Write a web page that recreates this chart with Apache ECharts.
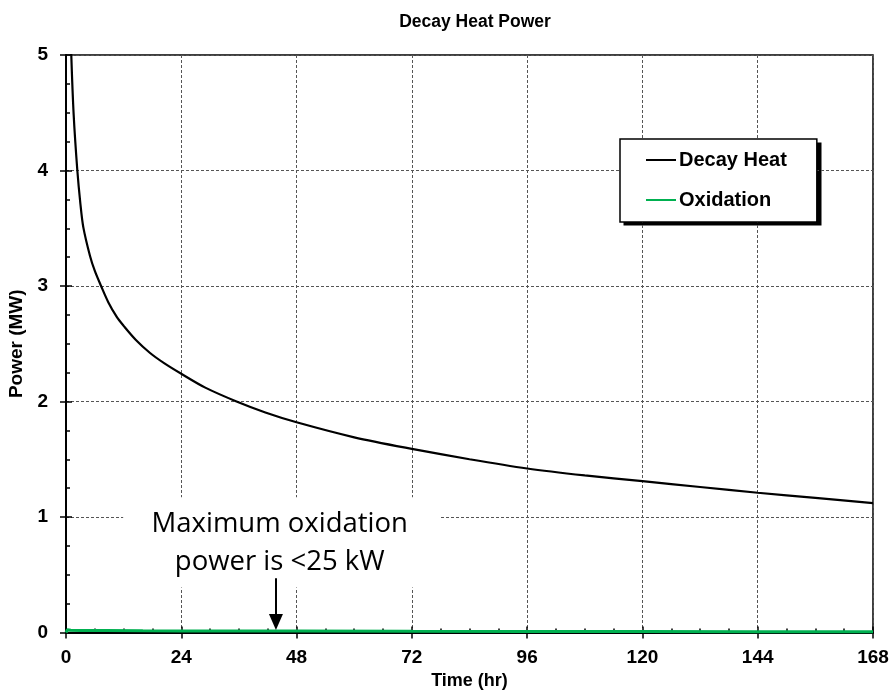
<!DOCTYPE html>
<html>
<head>
<meta charset="utf-8">
<script src="https://cdn.jsdelivr.net/npm/echarts@6/dist/echarts.min.js"></script>
<style>html,body{margin:0;padding:0;background:#fff}#c{width:892px;height:698px}</style>
</head>
<body>
<div id="c"></div>
<script>
// Decay heat curve (hours, MW)
var decayTime = [0.5, 0.8, 1.1, 1.6, 2.36, 3.0, 3.6, 5.0, 6.0, 7.3, 8.8, 10.6, 12.0, 14.5, 17.5, 20.5, 24, 29, 35.5, 41.5, 48, 60, 72, 84, 96, 108, 120, 132, 144, 156, 168];
var decayPower = [6.28, 5.49, 5.0, 4.48, 4.0, 3.71, 3.51, 3.26, 3.13, 3.0, 2.86, 2.73, 2.655, 2.535, 2.42, 2.33, 2.24, 2.12, 2.0, 1.905, 1.82, 1.69, 1.59, 1.5, 1.42, 1.36, 1.31, 1.26, 1.21, 1.165, 1.12];
// Oxidation power (hours, MW)
var oxTime = [0, 0.3, 1, 3, 8, 16, 24, 48, 72, 96, 120, 144, 168];
var oxPower = [0.0, 0.024, 0.02, 0.018, 0.017, 0.015, 0.014, 0.012, 0.01, 0.009, 0.008, 0.007, 0.006];
var xTicks = [0, 24, 48, 72, 96, 120, 144, 168];
var yTicks = [0, 1, 2, 3, 4, 5];
var seriesNames = ['Decay Heat', 'Oxidation'];
var annotationLines = ['Maximum oxidation', 'power is <25 kW'];
var arrowAt = {t: 43.7, from: 0.47, to: 0.09};

function pairs(a, b) { return a.map(function (v, i) { return [v, b[i]]; }); }

var chart = echarts.init(document.getElementById('c'), null, {renderer: 'canvas'});
var F = '"Liberation Sans", Arial, sans-serif';
var gridDash = {type: [3, 2], color: '#555', width: 1};
var shadowRect = {type: 'rect', z: 0, silent: true, shape: {x: 623.5, y: 142.5, width: 198, height: 83}, style: {fill: '#000'}};

var option = {
  animation: false,
  backgroundColor: '#fff',
  title: {
    text: 'Decay Heat Power', left: 470, top: 8, textAlign: 'center',
    textStyle: {fontFamily: F, fontWeight: 'bold', fontSize: 17.5, color: '#000'}
  },
  grid: {left: 66, right: 19, top: 55, bottom: 65.5, show: true, borderColor: '#000', borderWidth: 1.5,
    backgroundColor: 'transparent', containLabel: false, outerBoundsMode: 'none'},
  graphic: [shadowRect],
  legend: {
    orient: 'vertical', left: 620, top: 139,
    data: seriesNames,
    icon: 'rect', itemWidth: 30, itemHeight: 2, itemGap: 20,
    padding: [11, 30, 12, 26],
    backgroundColor: '#fff', borderColor: '#000', borderWidth: 1.5,
    textStyle: {fontFamily: F, fontWeight: 'bold', fontSize: 20, color: '#000', padding: [0, 0, 0, -2]}
  },
  xAxis: [{
    type: 'value', min: 0, max: 168, interval: 24,
    name: 'Time (hr)', nameLocation: 'middle', nameGap: 38,
    nameTextStyle: {fontFamily: F, fontWeight: 'bold', fontSize: 18, color: '#000'},
    axisLine: {onZero: false, lineStyle: {color: '#000', width: 2}},
    axisTick: {inside: true, length: 6, lineStyle: {color: '#000', width: 1.5}},
    minorTick: {show: true, splitNumber: 4, length: 4, lineStyle: {color: '#000', width: 1.5}},
    axisLabel: {margin: 16, fontFamily: F, fontWeight: 'bold', fontSize: 19, color: '#000'},
    splitLine: {show: true, lineStyle: gridDash}
  }, {
    type: 'value', min: 0, max: 168, interval: 24, position: 'bottom',
    axisLine: {show: false}, axisLabel: {show: false}, splitLine: {show: false},
    axisTick: {show: true, inside: false, length: 6, lineStyle: {color: '#000', width: 1.5}}
  }],
  yAxis: [{
    type: 'value', min: 0, max: 5, interval: 1,
    name: 'Power (MW)', nameLocation: 'middle', nameGap: 38,
    nameTextStyle: {fontFamily: F, fontWeight: 'bold', fontSize: 19, color: '#000'},
    axisLine: {show: true, onZero: false, lineStyle: {color: '#000', width: 2}},
    axisTick: {show: true, inside: true, length: 6, lineStyle: {color: '#000', width: 1.5}},
    minorTick: {show: true, splitNumber: 4, length: 4, lineStyle: {color: '#000', width: 1.5}},
    axisLabel: {margin: 18, fontFamily: F, fontWeight: 'bold', fontSize: 19, color: '#000'},
    splitLine: {show: true, lineStyle: gridDash}
  }, {
    type: 'value', min: 0, max: 5, interval: 1, position: 'left',
    axisLine: {show: false}, axisLabel: {show: false}, splitLine: {show: false},
    axisTick: {show: true, inside: false, length: 6, lineStyle: {color: '#000', width: 1.5}}
  }],
  series: [{
    name: seriesNames[0], type: 'line', data: pairs(decayTime, decayPower),
    showSymbol: false, symbol: 'none', smooth: 0.3, clip: true,
    lineStyle: {color: '#000', width: 2.2}, itemStyle: {color: '#000'}, z: 3
  }, {
    name: seriesNames[1], type: 'line', data: pairs(oxTime, oxPower),
    showSymbol: false, symbol: 'none', clip: true,
    lineStyle: {color: '#00B050', width: 3}, itemStyle: {color: '#00B050'}, z: 4,
    markLine: {
      silent: true, symbol: ['none', 'triangle'], symbolSize: [14, 16],
      lineStyle: {color: '#000', width: 2, type: 'solid'}, label: {show: false},
      data: [[{coord: [arrowAt.t, arrowAt.from]}, {coord: [arrowAt.t, arrowAt.to]}]]
    }
  }]
};
chart.setOption(option);

// annotation placed in data coordinates
var pTop = chart.convertToPixel({gridIndex: 0}, [44.5, 1.17]);
var pRectA = chart.convertToPixel({gridIndex: 0}, [11.9, 1.17]);
var pRectB = chart.convertToPixel({gridIndex: 0}, [77.9, 0.39]);
chart.setOption({
  graphic: [shadowRect, {
    type: 'rect', z: 1, silent: true,
    shape: {x: pRectA[0], y: pRectA[1], width: pRectB[0] - pRectA[0], height: pRectB[1] - pRectA[1]},
    style: {fill: '#fff'}
  }, {
    type: 'text', z: 5, silent: true, x: pTop[0], y: pTop[1] + 8,
    style: {text: annotationLines.join('\n'), fill: '#000', font: '27.5px "Open Sans", sans-serif',
      align: 'center', verticalAlign: 'top', lineHeight: 38}
  }]
});
</script>
</body>
</html>
